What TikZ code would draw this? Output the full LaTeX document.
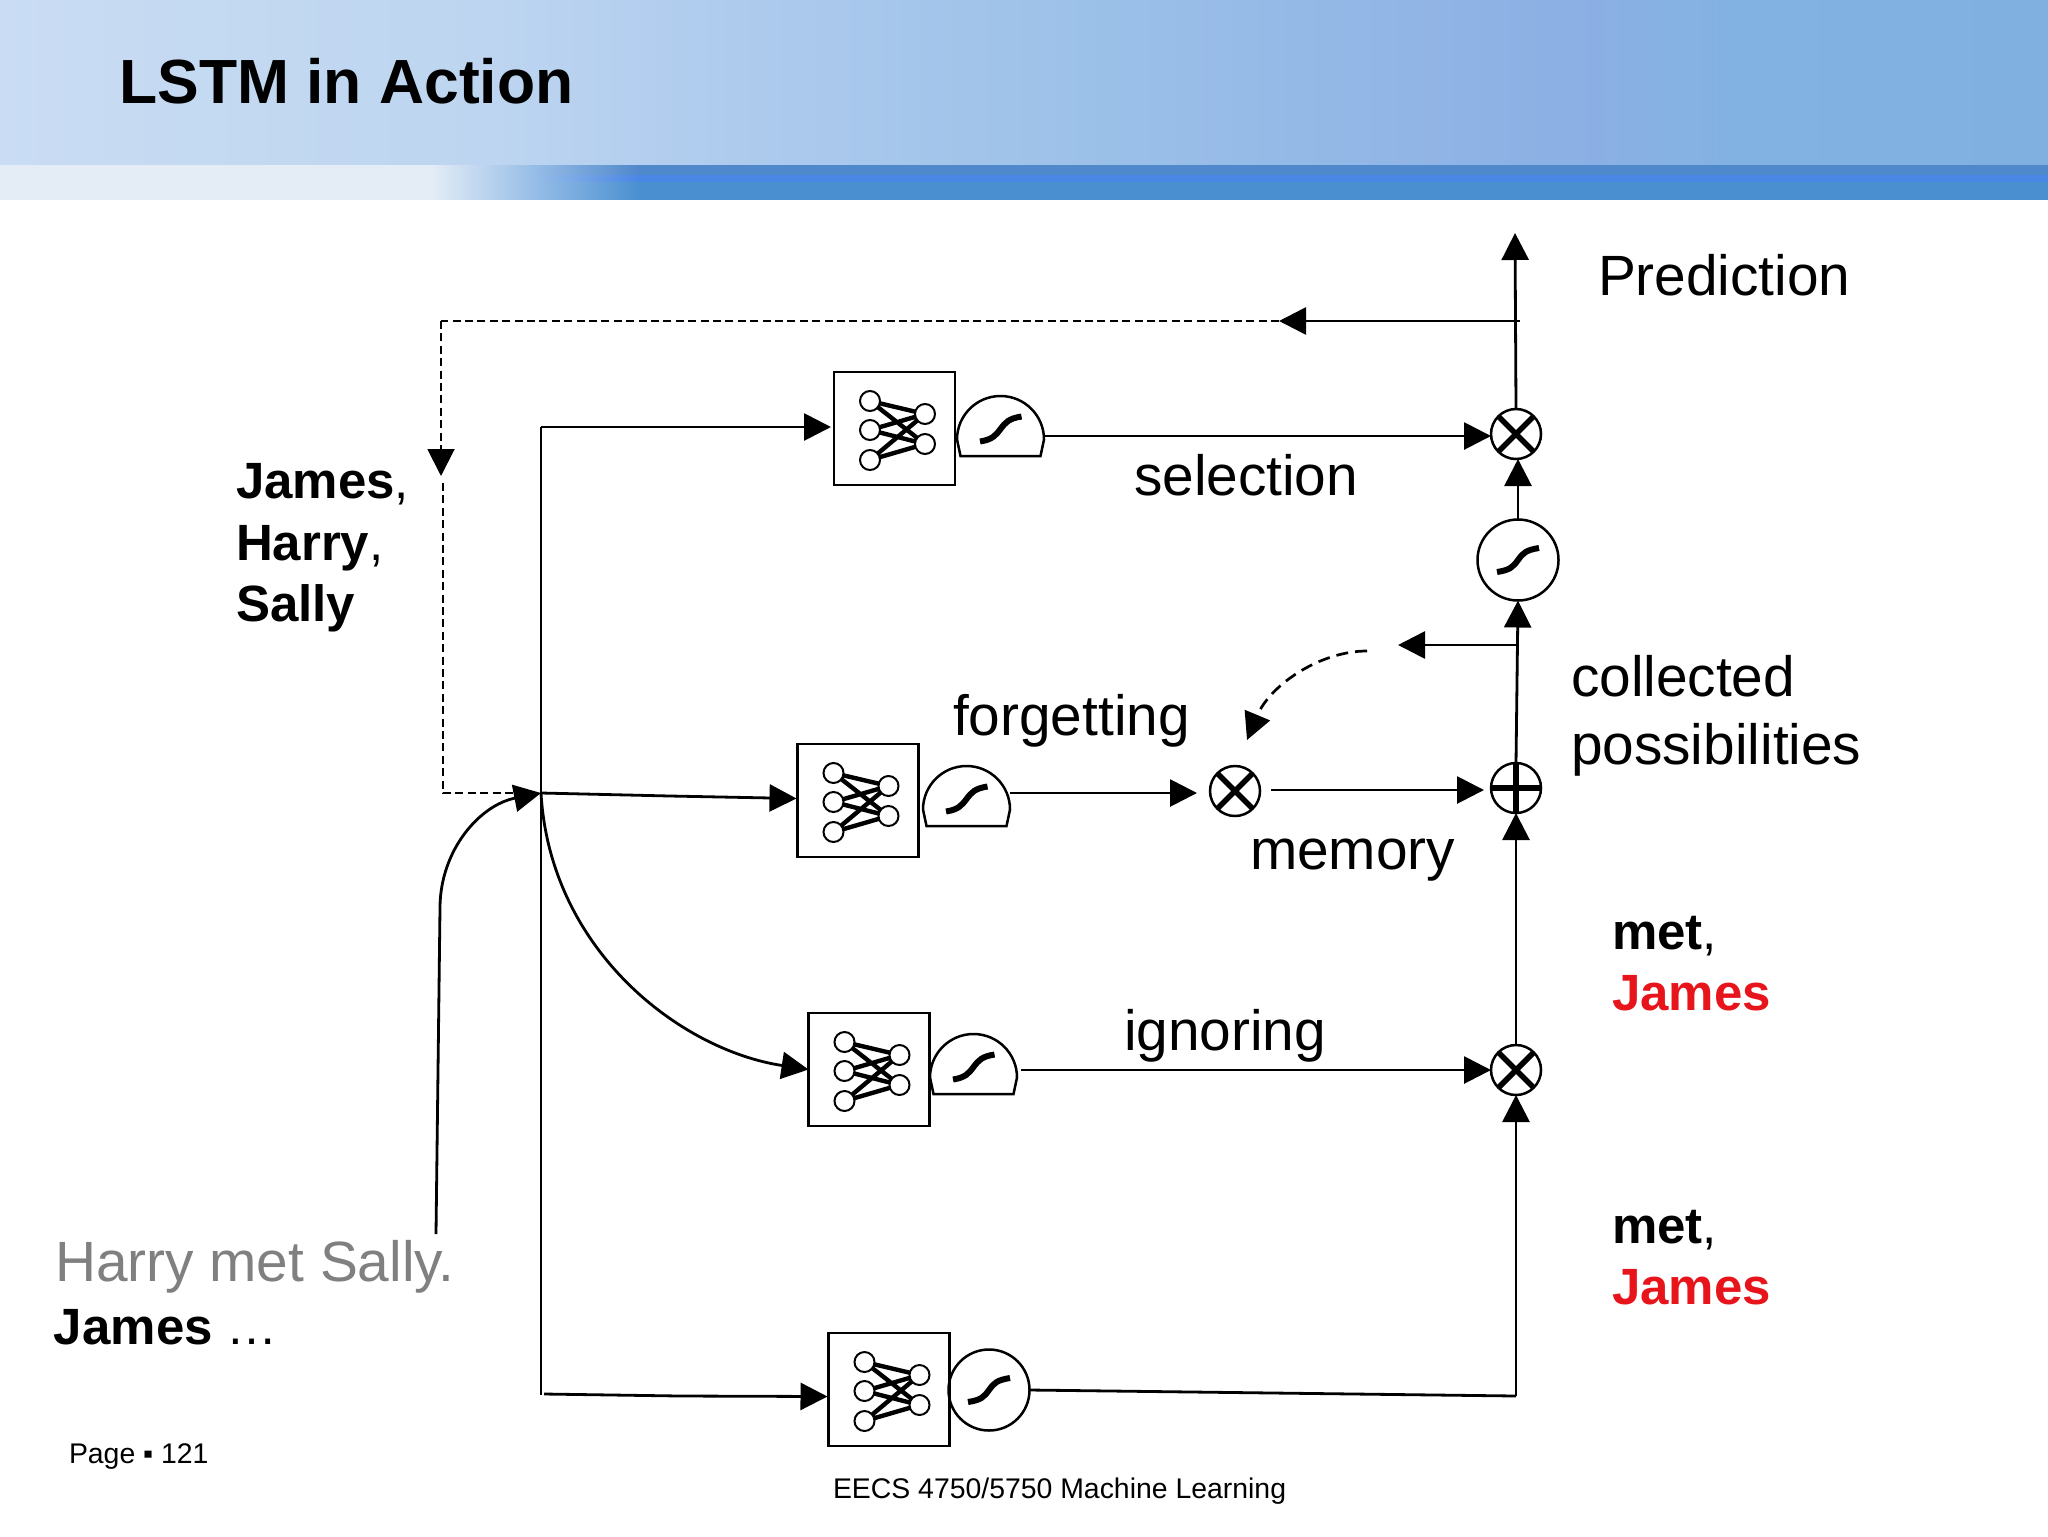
\documentclass[tikz,border=0pt]{standalone}
\usepackage{fontspec}
\setmainfont{Liberation Sans}
\usetikzlibrary{arrows.meta,calc}
\definecolor{s0}{HTML}{C9DCF3}\definecolor{s1}{HTML}{BDD5F0}\definecolor{s2}{HTML}{B0CCEE}
\definecolor{s3}{HTML}{9BC0E8}\definecolor{s4}{HTML}{8CAFE4}\definecolor{s5}{HTML}{82B2E2}\definecolor{s6}{HTML}{7FB0E0}
\definecolor{pale}{HTML}{E4EDF6}\definecolor{redw}{HTML}{E8141C}\definecolor{greyt}{HTML}{808080}
\definecolor{b1}{HTML}{5088CC}\definecolor{b2}{HTML}{4A86E4}\definecolor{b3}{HTML}{4A90D0}
\pgfdeclarehorizontalshading{hdr}{100bp}{color(0bp)=(s0);color(25bp)=(s0);color(37bp)=(s1);color(42bp)=(s2);color(52bp)=(s3);color(63.5bp)=(s4);color(67.5bp)=(s5);color(75bp)=(s6);color(100bp)=(s6)}
\pgfdeclarehorizontalshading{barA}{100bp}{color(0bp)=(pale);color(35.5bp)=(pale);color(37.9bp)=(s3);color(40.6bp)=(b1);color(100bp)=(b1)}
\pgfdeclarehorizontalshading{barB}{100bp}{color(0bp)=(pale);color(35.5bp)=(pale);color(37.9bp)=(s3);color(40.6bp)=(b2);color(100bp)=(b2)}
\pgfdeclarehorizontalshading{barC}{100bp}{color(0bp)=(pale);color(35.5bp)=(pale);color(37.9bp)=(s3);color(40.6bp)=(b3);color(100bp)=(b3)}
\tikzset{
  wire/.style={line width=1.4pt},
  arr/.style={wire,-{Triangle[length=13.5pt,width=13.5pt]}},
  dashline/.style={line width=1pt,dash pattern=on 4pt off 2.2pt},
  dashcurve/.style={line width=1.35pt,dash pattern=on 6pt off 3.5pt,-{Triangle[length=13.5pt,width=13.5pt]}},
  nnbox/.style={draw,line width=1.3pt,rectangle,minimum width=60.5pt,minimum height=56.5pt,inner sep=0,outer sep=0},
  gatecirc/.style={draw,line width=1.25pt,circle,minimum size=40.5pt,inner sep=0,outer sep=0},
  opcirc/.style={draw,line width=1.25pt,circle,minimum size=25pt,inner sep=0,outer sep=0},
  timesop/.style={opcirc,path picture={\draw[line width=2.8pt]
     (path picture bounding box.north west)--(path picture bounding box.south east)
     (path picture bounding box.north east)--(path picture bounding box.south west);}},
  plusop/.style={opcirc,path picture={\draw[line width=2.8pt]
     (path picture bounding box.north)--(path picture bounding box.south)
     (path picture bounding box.east)--(path picture bounding box.west);}},
  lab/.style={anchor=base west,inner sep=0,outer sep=0,font=\fontsize{28.4}{34}\selectfont},
  bold/.style={anchor=base west,inner sep=0,outer sep=0,align=left,font=\fontsize{25.5}{30.5}\selectfont},
  small/.style={anchor=base west,inner sep=0,outer sep=0,font=\fontsize{14.2}{17}\selectfont},
  scurve/.pic={\draw[line width=3pt] (-21,12) .. controls (-8,10) and (-5,7) .. (0,0) .. controls (5,-7) and (8,-10) .. (21,-12);},
  nnicon/.pic={
    \draw[line width=2.2pt] (-24.5,-27.5)--(30.5,-14.5) (-24.5,-27.5)--(30.5,15.5)
      (-24.5,1.5)--(30.5,-14.5) (-24.5,1.5)--(30.5,15.5)
      (-24.5,31.5)--(30.5,-14.5) (-24.5,31.5)--(30.5,15.5);
    \foreach \p in {(-24.5,-27.5),(-24.5,1.5),(-24.5,31.5),(30.5,-14.5),(30.5,15.5)}
      \draw[line width=1pt,fill=white] \p circle[radius=5pt];
  },
  domegate/.pic={
    \draw[line width=1.25pt] (-40,16.5)--(40,16.5)--(43.5,0)
      .. controls (43.5,-24) and (24,-43.5) .. (0,-43.5)
      .. controls (-24,-43.5) and (-43.5,-24) .. (-43.5,0)--cycle;
    \draw[line width=3pt] (-20.5,2) .. controls (-8,0) and (-5,-4) .. (0,-10.5) .. controls (5,-17) and (8,-21) .. (21,-23);
    \coordinate (-out) at (43.5,-3.5);
  }
}
\begin{document}
\begin{tikzpicture}[x=0.5pt,y=-0.5pt]
\path[use as bounding box] (0,0) rectangle (2048,1536);
% header
\shade[shading=hdr] (0,0) rectangle (2048,170);
\shade[shading=barA] (0,165) rectangle (2048,176);
\shade[shading=barB] (0,175) rectangle (2048,183);
\shade[shading=barC] (0,182) rectangle (2048,199);
\node[anchor=base west,inner sep=0,font=\fontsize{31.2}{36}\selectfont\bfseries] (title) at (119,104) {LSTM in Action};
% boxes
\node[nnbox] (nn1) at (894.5,428.5) {};
\node[nnbox] (nn2) at (858,800.5) {};
\node[nnbox] (nn3) at (869,1069.5) {};
\node[nnbox] (nn4) at (889,1389.5) {};
\pic at (nn1) {nnicon}; \pic at (nn2) {nnicon}; \pic at (nn3) {nnicon}; \pic at (nn4) {nnicon};
\pic (d1) at (1000.5,439.5) {domegate};
\pic (d2) at (966.5,809.5) {domegate};
\pic (d3) at (973.5,1077.5) {domegate};
\node[gatecirc] (g4) at (989,1390) {}; \pic at (g4) {scurve};
\node[gatecirc] (sig) at (1518,560) {}; \pic at (sig) {scurve};
\node[timesop] (m1) at (1516,434) {};
\node[timesop] (m2) at (1235,791) {};
\node[timesop] (m3) at (1516,1070) {};
\node[plusop] (pl) at (1516,788) {};
% free ends
\coordinate (top) at (1515,233);
\coordinate (fbR) at (1520,321);
\coordinate (fbT) at (1279,321);
\coordinate (fbL) at (441,321);
\coordinate (fbD) at (441,476);
\coordinate (fb2) at (443,483);
\coordinate (fb3) at (443,793);
\coordinate (J) at (541,793);
\coordinate (busT) at (541,427);
\coordinate (busB) at (541,1395);
\coordinate (in0) at (436,1234);
\coordinate (in1) at (440,908);
\coordinate (g4c) at (1516,1396);
\coordinate (brR) at (1516,645);
\coordinate (brL) at (1398,645);
\coordinate (cs) at (1367,651);
\coordinate (ce) at (1247,740);
% connectors
\draw[arr] (m1.north) -- (top);
\draw[arr] (fbR) -- (fbT);
\draw[dashline] (fbT) -- (fbL);
\draw[dashline,-{Triangle[length=13.5pt,width=13.5pt]}] (fbL) -- (fbD);
\draw[dashline] (fb2) -- (fb3) -- (J);
\draw[arr] (in0) -- (in1) .. controls (440,850) and (480,805) .. (J);
\draw[wire] (busT) -- (busB);
\draw[arr] (busT) -- ($(nn1.west)+(-3,-1.5)$);
\draw[arr] (J) -- (670,796) -- ($(nn2.west)+(-1,-2)$);
\draw[arr] (J) .. controls (550,950) and (680,1050) .. (nn3.west);
\draw[arr] (544,1394) -- (680,1396) -- ($(nn4.west)+(-1,7)$);
\draw[arr] (d1-out) -- (m1.west |- d1-out);
\draw[arr] ($(d2-out)+(0,-13)$) -- ($(m2.west)+(-13,2)$);
\draw[arr] ($(m2.east)+(11,-1)$) -- ($(pl.west)+(-7,2)$);
\draw[arr] ($(d3-out)+(4,-4)$) -- (m3.west);
\draw[wire] (g4.east) -- (g4c);
\draw[arr] (g4c) -- (m3.south);
\draw[arr] (m3.north) -- (pl.south);
\draw[arr] (pl.north) -- (sig.south);
\draw[arr] (sig.north) -- (sig.north |- m1.south);
\draw[arr] (brR) -- (brL);
\draw[dashcurve] (cs) .. controls (1320,651) and (1270,685) .. (ce);
% text
\node[lab] (pred) at (1598,295) {Prediction};
\node[lab] (sel) at (1134,495) {selection};
\node[lab] (forg) at (953,735) {forgetting};
\node[lab] (mem) at (1250,869) {memory};
\node[lab] (ign) at (1124,1050) {ignoring};
\node[lab] (coll) at (1571,696) {collected};
\node[lab] (poss) at (1571,764) {possibilities};
\node[bold] (jhs1) at (236,498) {\textbf{James},};
\node[bold] (jhs2) at (236,560) {\textbf{Harry},};
\node[bold] (jhs3) at (236,621) {\textbf{Sally}};
\node[bold] (met1) at (1612,949) {\textbf{met},};
\node[bold,text=redw] (jam1) at (1612,1010) {\textbf{James}};
\node[bold] (met2) at (1612,1243) {\textbf{met},};
\node[bold,text=redw] (jam2) at (1612,1304) {\textbf{James}};
\node[lab,text=greyt] (hms) at (55,1281) {Harry met Sally.};
\node[bold] (jam3) at (54,1344) {\textbf{James} …};
\node[small] (page) at (69,1463) {Page ▪ 121};
\node[small] (foot) at (833,1498) {EECS 4750/5750 Machine Learning};
\end{tikzpicture}
\end{document}
